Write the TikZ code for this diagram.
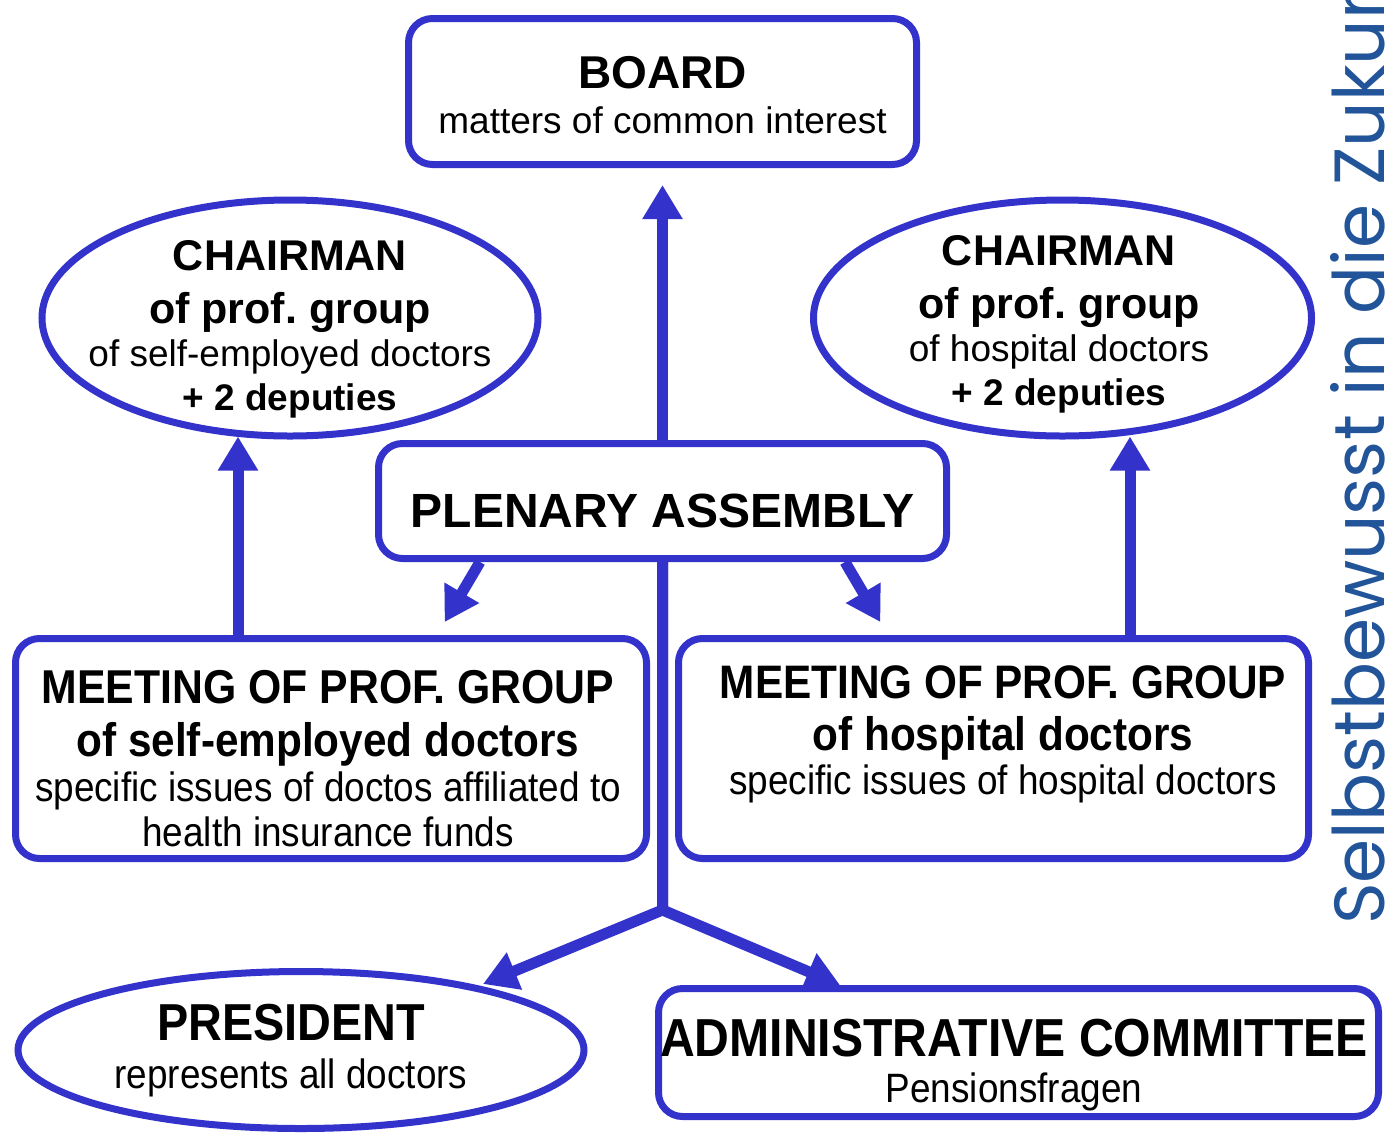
\documentclass[tikz,border=0pt]{standalone}
\usepackage{fontspec}
\setmainfont{Liberation Sans}
\newfontfamily\narrowfont[FakeStretch=0.9]{Liberation Sans}
\newfontfamily\mottofont{Poppins}
\usetikzlibrary{arrows.meta,shapes.geometric}
\definecolor{scheme}{RGB}{51,51,204}
\definecolor{motto}{RGB}{33,84,153}
\frenchspacing

\begin{document}
\begin{tikzpicture}[x=1pt,y=-1pt,
		box/.style={draw=scheme,line width=7pt,rounded corners=24pt,inner sep=0pt},
		oval/.style={ellipse,draw=scheme,line width=7pt,inner sep=0pt},
		txt/.style={align=center,inner sep=0pt,anchor=north},
		link/.style={draw=scheme,line width=11pt,-{Triangle[length=34pt,width=38pt]}}]
				\useasboundingbox (0,0) rectangle (1389,1133);
				\coordinate (c1) at (662.5,91.5);%board
				\coordinate (c2) at (290,318);%chairman left
				\coordinate (c3) at (1062.5,318);%chairman right
				\coordinate (c4) at (662.5,501);%plenary
				\coordinate (c5) at (331,748.5);%meeting left
				\coordinate (c6) at (993.5,748.5);%meeting right
				\coordinate (c7) at (301,1050);%president
				\coordinate (c8) at (1018.5,1052.5);%administrative committee
				\coordinate (fork) at (662.5,910);
				\coordinate (presTip) at (483,984);

				\node[box,minimum width=508pt,minimum height=146pt] (board) at (c1) {};
				\node[oval,minimum width=496pt,minimum height=236pt] (chairL) at (c2) {};
				\node[oval,minimum width=498pt,minimum height=236pt] (chairR) at (c3) {};
				\node[box,minimum width=568pt,minimum height=115pt] (plen) at (c4) {};
				\node[box,minimum width=631pt,minimum height=220pt] (mtgL) at (c5) {};
				\node[box,minimum width=630pt,minimum height=220pt] (mtgR) at (c6) {};
				\node[oval,minimum width=566pt,minimum height=157pt] (pres) at (c7) {};
				\node[box,minimum width=720pt,minimum height=128pt] (admin) at (c8) {};

				\node[txt,font=\fontsize{37}{45}\selectfont] (boardText) at (662.5,56.4)
					{{\bfseries\fontsize{46}{45}\selectfont BOARD}\\matters of common interest};
				\node[txt,font=\fontsize{37}{44}\selectfont] (chairLText) at (290,240.6)
					{{\bfseries\fontsize{43}{44}\selectfont CHAIRMAN}\\[9pt]{\bfseries\fontsize{43}{44}\selectfont of prof. group}\\[-1pt]of self-employed doctors\\{\bfseries + 2 deputies}};
				\node[txt,font=\fontsize{37}{44}\selectfont] (chairRText) at (1059,235.6)
					{{\bfseries\fontsize{43}{44}\selectfont CHAIRMAN}\\[9pt]{\bfseries\fontsize{43}{44}\selectfont of prof. group}\\[-1pt]of hospital doctors\\{\bfseries + 2 deputies}};
				\node[anchor=base,inner sep=0pt,font=\bfseries\fontsize{48}{48}\selectfont] (plenText) at (662.5,527) {PLENARY ASSEMBLY};
				\node[txt,font=\narrowfont\fontsize{41}{45}\selectfont] (mtgLText) at (328,669.7)
					{{\bfseries\fontsize{47.5}{45}\selectfont MEETING OF PROF. GROUP}\\[8pt]{\bfseries\fontsize{47}{45}\selectfont of self-employed doctors}\\specific issues of doctos affiliated to\\health insurance funds};
				\node[txt,font=\narrowfont\fontsize{41}{44}\selectfont] (mtgRText) at (1003,665.7)
					{{\bfseries\fontsize{47}{44}\selectfont MEETING OF PROF. GROUP}\\[8pt]{\bfseries\fontsize{47}{44}\selectfont of hospital doctors}\\specific issues of hospital doctors};
				\node[txt,font=\narrowfont\fontsize{41}{48}\selectfont] (presText) at (291,1004)
					{{\bfseries\fontsize{52}{48}\selectfont PRESIDENT}\\represents all doctors};
				\node[txt,font=\narrowfont\fontsize{41}{46}\selectfont] (adminText) at (1014,1019)
					{{\bfseries\fontsize{53.5}{46}\selectfont ADMINISTRATIVE COMMITTEE}\\Pensionsfragen};

				\draw[link,shorten >=17pt] (plen.north) -- (board.south);
				\draw[link,shorten >=15pt] ([xshift=-182.5pt]plen.south) -- ([xshift=106pt]mtgL.north);
				\draw[link,shorten >=15pt] ([xshift=182.5pt]plen.south) -- ([xshift=-105.5pt]mtgR.north);
				\draw[link,shorten >=-3pt] ([xshift=-93pt]mtgL.north) -- ([xshift=-52pt]chairL.south);
				\draw[link,shorten >=-3pt] ([xshift=136.5pt]mtgR.north) -- ([xshift=67.5pt]chairR.south);
				\draw[link] (plen.south) -- (fork) -- (presTip);
				\draw[link] (plen.south) -- (fork) -- ([xshift=-178.5pt]admin.north);

				\node[rotate=90,anchor=base west,inner sep=0pt,text=motto,font=\mottofont\fontsize{71}{71}\selectfont] (motto) at (1384,925) {Selbstbewusst in die Zukunft};
			\end{tikzpicture}
\end{document}
